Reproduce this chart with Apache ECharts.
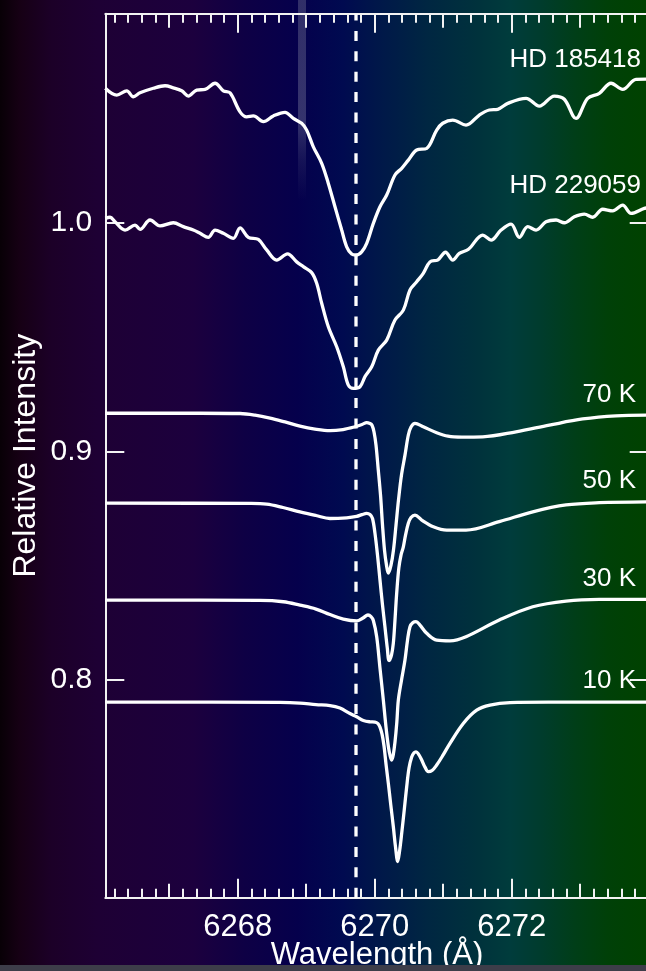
<!DOCTYPE html>
<html>
<head>
<meta charset="utf-8">
<title>Relative Intensity vs Wavelength</title>
<script src="https://cdn.jsdelivr.net/npm/echarts@6.0.0/dist/echarts.min.js"></script>
<style>
html, body { margin: 0; padding: 0; background: #000; }
#chart { width: 646px; height: 971px; }
</style>
</head>
<body>
<div id="chart"></div>
<script>
// Plot ranges: wavelength in Å, intensity relative to continuum
const X_MIN = 6266.067, X_MAX = 6274.0;
const Y_MIN = 0.7049, Y_MAX = 1.0914;

// Tick positions
const majorX = [6268, 6270, 6272];
const midX = [6267, 6269, 6271, 6273];
const minorX = [];
for (let t = 62662; t <= 62738; t += 2) minorX.push(t / 10);
const yTicks = [0.8, 0.9, 1.0];

// Rest wavelength marker
const restWavelength = 6269.727;

// Curve annotations
const curveNames = ['HD 185418', 'HD 229059', '70 K', '50 K', '30 K', '10 K'];

// Observed spectra [wavelength, intensity]
const hd185418 = [
  [6266.067,1.0588],[6266.234,1.0558],[6266.380,1.0577],[6266.476,1.0551],[6266.574,1.0568],[6266.768,1.0588],[6266.939,1.0599],[6267.060,1.0590],[6267.182,1.0577],[6267.279,1.0554],
  [6267.401,1.0580],[6267.523,1.0583],[6267.669,1.0610],[6267.790,1.0577],[6267.888,1.0568],[6268.034,1.0485],[6268.131,1.0463],[6268.228,1.0467],[6268.374,1.0442],[6268.520,1.0467],
  [6268.691,1.0483],[6268.812,1.0456],[6268.934,1.0435],[6269.007,1.0405],[6269.104,1.0332],[6269.226,1.0260],[6269.323,1.0172],[6269.420,1.0070],[6269.518,0.9968],[6269.591,0.9895],
  [6269.664,0.9863],[6269.727,0.9859],[6269.810,0.9873],[6269.883,0.9910],[6269.980,0.9997],[6270.077,1.0070],[6270.175,1.0121],[6270.296,1.0209],[6270.394,1.0238],[6270.491,1.0274],
  [6270.613,1.0318],[6270.759,1.0325],[6270.905,1.0405],[6270.993,1.0435],[6271.139,1.0449],[6271.333,1.0427],[6271.527,1.0471],[6271.673,1.0493],[6271.796,1.0496],[6271.942,1.0522],
  [6272.209,1.0544],[6272.403,1.0510],[6272.622,1.0554],[6272.768,1.0540],[6272.939,1.0456],[6273.109,1.0544],[6273.279,1.0566],[6273.450,1.0610],[6273.620,1.0583],[6273.815,1.0627],[6273.990,1.0628]
];

const hd229059 = [
  [6266.067,1.0019],[6266.136,1.0024],[6266.209,1.0004],[6266.355,0.9968],[6266.501,0.9990],[6266.574,0.9971],[6266.720,1.0012],[6266.866,0.9986],[6267.060,1.0000],[6267.206,0.9983],
  [6267.352,0.9968],[6267.450,0.9954],[6267.571,0.9936],[6267.669,0.9968],[6267.790,0.9954],[6267.936,0.9932],[6268.034,0.9978],[6268.155,0.9936],[6268.301,0.9927],[6268.423,0.9881],
  [6268.569,0.9837],[6268.727,0.9864],[6268.861,0.9829],[6268.958,0.9808],[6269.080,0.9782],[6269.153,0.9735],[6269.226,0.9648],[6269.323,0.9545],[6269.445,0.9458],[6269.542,0.9370],
  [6269.615,0.9290],[6269.688,0.9276],[6269.785,0.9283],[6269.858,0.9327],[6269.956,0.9370],[6270.053,0.9443],[6270.175,0.9487],[6270.296,0.9575],[6270.418,0.9618],[6270.515,0.9706],
  [6270.613,0.9742],[6270.709,0.9779],[6270.807,0.9829],[6270.924,0.9838],[6271.034,0.9871],[6271.139,0.9837],[6271.235,0.9866],[6271.369,0.9884],[6271.577,0.9946],[6271.698,0.9924],
  [6271.844,0.9968],[6271.990,0.9994],[6272.111,0.9936],[6272.234,0.9983],[6272.355,0.9968],[6272.501,1.0004],[6272.647,1.0012],[6272.768,1.0000],[6272.914,1.0026],[6273.060,1.0038],
  [6273.182,1.0024],[6273.328,1.0059],[6273.474,1.0052],[6273.620,1.0077],[6273.742,1.0041],[6273.936,1.0063],[6274.000,1.0066]
];

// Model profiles at different kinetic temperatures
const model70K = [
  [6266.067,0.9167],[6267.450,0.9167],[6268.034,0.9166],[6268.253,0.9159],[6268.472,0.9146],[6268.691,0.9129],[6268.909,0.9111],[6269.128,0.9098],[6269.347,0.9091],[6269.537,0.9096],
  [6269.712,0.9108],[6269.815,0.9118],[6269.883,0.9126],[6269.931,0.9122],[6269.961,0.9115],[6269.990,0.9085],[6270.019,0.9028],[6270.048,0.8933],[6270.085,0.8809],[6270.114,0.8678],
  [6270.143,0.8569],[6270.172,0.8503],[6270.199,0.8468],[6270.238,0.8503],[6270.274,0.8569],[6270.311,0.8678],[6270.347,0.8787],[6270.391,0.8897],[6270.442,0.8984],[6270.491,0.9072],
  [6270.530,0.9107],[6270.588,0.9123],[6270.709,0.9108],[6270.905,0.9082],[6271.070,0.9067],[6271.274,0.9063],[6271.577,0.9064],[6272.063,0.9086],[6272.549,0.9115],[6273.036,0.9142],
  [6273.523,0.9156],[6273.990,0.9159]
];

const model50K = [
  [6266.067,0.8774],[6268.180,0.8773],[6268.423,0.8770],[6268.661,0.8755],[6268.909,0.8736],[6269.143,0.8720],[6269.347,0.8707],[6269.591,0.8710],[6269.737,0.8716],[6269.815,0.8724],
  [6269.883,0.8729],[6269.931,0.8724],[6269.968,0.8707],[6270.004,0.8642],[6270.041,0.8547],[6270.077,0.8438],[6270.114,0.8328],[6270.150,0.8232],[6270.184,0.8140],[6270.209,0.8086],
  [6270.245,0.8110],[6270.272,0.8162],[6270.296,0.8263],[6270.321,0.8381],[6270.352,0.8490],[6270.384,0.8547],[6270.418,0.8583],[6270.450,0.8634],[6270.491,0.8686],[6270.530,0.8711],
  [6270.588,0.8722],[6270.686,0.8700],[6270.856,0.8671],[6271.051,0.8656],[6271.333,0.8656],[6271.819,0.8693],[6272.307,0.8736],[6272.793,0.8766],[6273.279,0.8776],[6273.990,0.8780]
];

const model30K = [
  [6266.067,0.8350],[6268.326,0.8349],[6268.666,0.8343],[6268.909,0.8328],[6269.143,0.8311],[6269.347,0.8287],[6269.542,0.8267],[6269.737,0.8259],[6269.829,0.8272],[6269.902,0.8285],
  [6269.946,0.8278],[6269.980,0.8261],[6270.029,0.8190],[6270.077,0.8053],[6270.126,0.7913],[6270.165,0.7795],[6270.201,0.7707],[6270.228,0.7666],[6270.248,0.7651],[6270.270,0.7672],
  [6270.296,0.7729],[6270.323,0.7817],[6270.345,0.7913],[6270.391,0.8000],[6270.442,0.8088],[6270.479,0.8175],[6270.515,0.8234],[6270.559,0.8252],[6270.603,0.8256],[6270.661,0.8241],
  [6270.759,0.8205],[6270.905,0.8175],[6271.099,0.8172],[6271.333,0.8190],[6271.819,0.8263],[6272.307,0.8321],[6272.793,0.8346],[6273.279,0.8353],[6273.990,0.8353]
];

const model10K = [
  [6266.067,0.7904],[6268.618,0.7903],[6268.909,0.7900],[6269.143,0.7893],[6269.347,0.7889],[6269.493,0.7878],[6269.639,0.7854],[6269.737,0.7840],[6269.834,0.7824],[6269.931,0.7818],
  [6270.004,0.7817],[6270.048,0.7810],[6270.077,0.7795],[6270.107,0.7764],[6270.136,0.7712],[6270.165,0.7633],[6270.199,0.7549],[6270.235,0.7454],[6270.272,0.7359],[6270.304,0.7270],
  [6270.336,0.7207],[6270.365,0.7257],[6270.394,0.7330],[6270.431,0.7432],[6270.467,0.7534],[6270.501,0.7616],[6270.540,0.7664],[6270.574,0.7683],[6270.603,0.7687],[6270.639,0.7677],
  [6270.686,0.7651],[6270.734,0.7620],[6270.783,0.7600],[6270.837,0.7605],[6270.905,0.7629],[6270.997,0.7672],[6271.099,0.7724],[6271.293,0.7811],[6271.489,0.7869],[6271.683,0.7891],
  [6271.975,0.7902],[6272.530,0.7904],[6273.990,0.7904]
];

// ---- styling helpers ----
const FONT = '"Liberation Sans", Arial, Helvetica, sans-serif';
const AXIS_COLOR = '#f2f2f2';
const LINE_COLOR = '#ffffff';
const LINE_WIDTH = 3.3;

function tickAxis(position, values, len, withLine) {
  return {
    type: 'value', position: position, min: X_MIN, max: X_MAX,
    axisLine: { show: withLine, onZero: false, lineStyle: { color: AXIS_COLOR, width: 2 } },
    axisTick: { show: true, inside: true, length: len, customValues: values,
                lineStyle: { color: AXIS_COLOR, width: 2 } },
    axisLabel: { show: false },
    splitLine: { show: false }
  };
}

const bottomMain = tickAxis('bottom', majorX, 19, true);
bottomMain.axisLabel = { show: true, customValues: majorX, color: '#ffffff',
  fontSize: 31, fontFamily: FONT, margin: 14, formatter: v => String(Math.round(v)) };
bottomMain.name = 'Wavelength (Å)';
bottomMain.nameLocation = 'middle';
bottomMain.nameGap = 42;
bottomMain.nameMoveOverlap = false;
bottomMain.nameTextStyle = { color: '#ffffff', fontSize: 31, fontFamily: FONT };

const xAxes = [
  bottomMain,
  tickAxis('bottom', midX, 14, false),
  tickAxis('bottom', minorX, 9, false),
  tickAxis('top', majorX, 19, true),
  tickAxis('top', midX, 14, false),
  tickAxis('top', minorX, 9, false)
];

const yAxes = [
  {
    type: 'value', position: 'left', min: Y_MIN, max: Y_MAX,
    axisLine: { show: true, onZero: false, lineStyle: { color: AXIS_COLOR, width: 2 } },
    axisTick: { show: true, inside: true, length: 19, customValues: yTicks,
                lineStyle: { color: AXIS_COLOR, width: 2 } },
    axisLabel: { show: true, customValues: yTicks, color: '#ffffff', fontSize: 30,
                 fontFamily: FONT, margin: 13, formatter: v => Number(v).toFixed(1) },
    splitLine: { show: false },
    name: 'Relative Intensity', nameLocation: 'middle', nameGap: 63, nameRotate: 90,
    nameMoveOverlap: false,
    nameTextStyle: { color: '#ffffff', fontSize: 32, fontFamily: FONT }
  },
  {
    type: 'value', position: 'right', min: Y_MIN, max: Y_MAX,
    axisLine: { show: true, onZero: false, lineStyle: { color: AXIS_COLOR, width: 2 } },
    axisTick: { show: true, inside: true, length: 19, customValues: yTicks,
                lineStyle: { color: AXIS_COLOR, width: 2 } },
    axisLabel: { show: false },
    splitLine: { show: false }
  }
];

function spectrum(name, data) {
  return {
    name: name, type: 'line', data: data, xAxisIndex: 0, yAxisIndex: 0,
    showSymbol: false, smooth: 0.35, z: 3,
    lineStyle: { color: LINE_COLOR, width: LINE_WIDTH },
    emphasis: { disabled: true }
  };
}

const series = [
  spectrum(curveNames[0], hd185418),
  spectrum(curveNames[1], hd229059),
  spectrum(curveNames[2], model70K),
  spectrum(curveNames[3], model50K),
  spectrum(curveNames[4], model30K),
  spectrum(curveNames[5], model10K),
  {
    name: 'rest', type: 'line', xAxisIndex: 0, yAxisIndex: 0, showSymbol: false, z: 2,
    data: [[restWavelength, Y_MIN], [restWavelength, Y_MAX]],
    lineStyle: { color: LINE_COLOR, width: LINE_WIDTH, type: [10, 10.4] },
    emphasis: { disabled: true }
  }
];

// Label anchors (pixel positions beside each curve)
const labelAnchors = [
  [641, 59.5], [641, 186], [636, 394.5], [636, 481], [636, 579], [636, 681]
];

const graphics = [
  {
    type: 'rect', z: -1, silent: true,
    shape: { x: 298, y: 0, width: 8, height: 200 },
    style: { fill: { type: 'linear', x: 0, y: 0, x2: 0, y2: 1, colorStops: [
      { offset: 0, color: 'rgba(120,120,150,0.38)' },
      { offset: 0.6, color: 'rgba(120,120,155,0.42)' },
      { offset: 0.8, color: 'rgba(90,90,130,0.2)' },
      { offset: 1, color: 'rgba(80,80,120,0)' } ] } }
  },
  {
    type: 'rect', z: 100, silent: true,
    shape: { x: 0, y: 965, width: 646, height: 6 },
    style: { fill: '#3d3d49' }
  }
].concat(curveNames.map((txt, i) => ({
  type: 'text', z: 10, silent: true,
  x: labelAnchors[i][0], y: labelAnchors[i][1],
  style: { text: txt, fill: '#ffffff', fontSize: 26, fontFamily: FONT,
           align: 'right', verticalAlign: 'middle' }
})));

const chart = echarts.init(document.getElementById('chart'), null, { renderer: 'canvas' });
chart.setOption({
  animation: false,
  backgroundColor: {
    type: 'linear', x: 0, y: 0, x2: 1, y2: 0,
    colorStops: [
      { offset: 0.00, color: '#080006' },
      { offset: 0.03, color: '#160014' },
      { offset: 0.08, color: '#1c0028' },
      { offset: 0.15, color: '#1e0034' },
      { offset: 0.30, color: '#1c003e' },
      { offset: 0.38, color: '#0e0045' },
      { offset: 0.46, color: '#05004c' },
      { offset: 0.53, color: '#000a50' },
      { offset: 0.58, color: '#00164a' },
      { offset: 0.66, color: '#002642' },
      { offset: 0.74, color: '#00323c' },
      { offset: 0.79, color: '#003c3c' },
      { offset: 0.84, color: '#003c2c' },
      { offset: 0.89, color: '#003e18' },
      { offset: 0.94, color: '#004008' },
      { offset: 1.00, color: '#004200' }
    ]
  },
  grid: { left: 105.3, top: 13.7, width: 543.4, height: 884,
          containLabel: false, outerBoundsMode: 'none' },
  xAxis: xAxes,
  yAxis: yAxes,
  series: series,
  graphic: graphics
});
</script>
</body>
</html>
